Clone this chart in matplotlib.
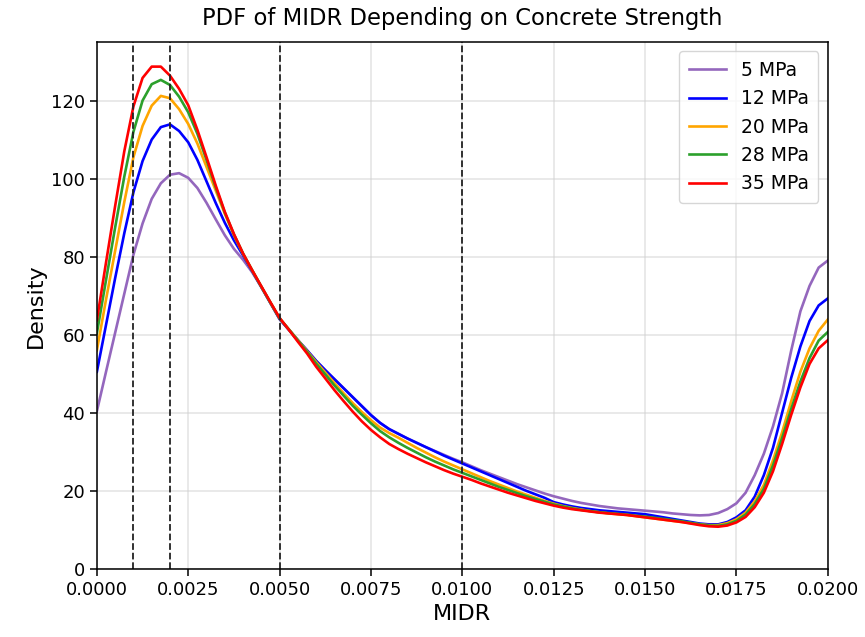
import numpy as np
import matplotlib
matplotlib.use("Agg")
import matplotlib.pyplot as plt

# MIDR grid on which the density curves were evaluated
midr = np.linspace(0.0, 0.02, 81)

strength_labels = ["5 MPa", "12 MPa", "20 MPa", "28 MPa", "35 MPa"]
line_colors = ["tab:purple", "blue", "orange", "tab:green", "red"]

density_5 = [
    40.4, 50.5, 60.5, 70.5, 80.5, 88.5, 94.8, 98.8, 101.0, 101.4,
    100.2, 97.6, 93.8, 89.6, 85.5, 82.0, 79.2, 76.0, 72.2, 68.1,
    64.0, 61.3, 58.6, 56.0, 53.3, 50.9, 48.6, 46.3, 44.0, 41.7,
    39.4, 37.4, 35.8, 34.6, 33.4, 32.3, 31.2, 30.2, 29.2, 28.2,
    27.3, 26.3, 25.3, 24.4, 23.5, 22.6, 21.7, 20.9, 20.1, 19.3,
    18.6, 18.0, 17.4, 16.9, 16.5, 16.1, 15.8, 15.5, 15.3, 15.1,
    14.9, 14.7, 14.5, 14.2, 14.0, 13.8, 13.7, 13.8, 14.3, 15.3,
    16.8, 19.5, 24.0, 29.5, 36.5, 45.0, 56.0, 66.0, 72.5, 77.2,
    79.0,
]
density_12 = [
    50.5, 62.5, 74.5, 86.0, 96.5, 104.5, 110.0, 113.2, 113.9, 112.2,
    109.3, 104.8, 99.3, 93.8, 88.7, 84.2, 80.3, 76.3, 72.2, 68.1,
    64.0, 61.3, 58.6, 56.0, 53.3, 50.9, 48.6, 46.3, 44.0, 41.7,
    39.4, 37.4, 35.8, 34.6, 33.4, 32.3, 31.2, 30.1, 29.0, 28.0,
    27.0, 26.0, 25.0, 24.0, 23.0, 22.0, 21.0, 20.0, 19.1, 18.2,
    17.1, 16.5, 16.0, 15.6, 15.3, 15.0, 14.8, 14.6, 14.4, 14.2,
    14.0, 13.6, 13.2, 12.8, 12.4, 12.0, 11.6, 11.4, 11.4, 12.0,
    13.2, 15.0, 18.5, 24.0, 31.0, 40.0, 49.0, 57.0, 63.5, 67.5,
    69.3,
]
density_20 = [
    56.0, 69.0, 81.5, 94.0, 105.5, 113.5, 118.7, 121.2, 120.6, 117.8,
    114.0, 109.0, 103.0, 97.0, 91.0, 85.5, 80.7, 76.5, 72.3, 68.2,
    64.2, 61.4, 58.6, 55.8, 53.0, 50.3, 47.6, 45.0, 42.5, 40.2,
    38.1, 36.2, 34.8, 33.6, 32.3, 31.0, 29.8, 28.6, 27.5, 26.5,
    25.5, 24.5, 23.5, 22.5, 21.6, 20.7, 19.8, 19.0, 18.2, 17.4,
    16.7, 16.1, 15.6, 15.2, 14.8, 14.5, 14.2, 14.0, 13.8, 13.5,
    13.2, 12.9, 12.6, 12.3, 12.0, 11.7, 11.4, 11.2, 11.2, 11.7,
    12.7, 14.4, 17.3, 21.5, 27.8, 35.0, 43.0, 50.5, 56.5, 61.0,
    63.9,
]
density_28 = [
    60.4, 74.0, 87.5, 100.5, 112.0, 120.0, 124.2, 125.3, 124.0, 121.0,
    117.0, 111.5, 104.8, 97.8, 91.3, 85.7, 80.8, 76.5, 72.3, 68.2,
    64.2, 61.4, 58.5, 55.6, 52.6, 49.8, 47.0, 44.4, 41.8, 39.5,
    37.3, 35.3, 33.7, 32.3, 31.0, 29.8, 28.6, 27.5, 26.5, 25.5,
    24.6, 23.7, 22.8, 21.9, 21.0, 20.2, 19.4, 18.6, 17.9, 17.2,
    16.5, 16.0, 15.5, 15.1, 14.8, 14.5, 14.3, 14.1, 13.9, 13.6,
    13.4, 13.1, 12.8, 12.5, 12.2, 11.8, 11.4, 11.1, 11.0, 11.4,
    12.3, 13.9, 16.6, 20.5, 26.5, 33.5, 41.0, 48.0, 54.0, 58.5,
    60.7,
]
density_35 = [
    63.7, 78.5, 93.0, 107.0, 118.5, 125.8, 128.7, 128.7, 126.4, 123.0,
    118.8, 112.5, 105.5, 98.3, 91.5, 85.8, 80.8, 76.5, 72.4, 68.3,
    64.3, 61.3, 58.2, 55.2, 51.8, 48.8, 45.8, 43.0, 40.3, 37.8,
    35.6, 33.7, 32.0, 30.7, 29.5, 28.4, 27.3, 26.3, 25.3, 24.4,
    23.6, 22.8, 21.9, 21.1, 20.3, 19.5, 18.8, 18.1, 17.4, 16.8,
    16.2, 15.7, 15.3, 15.0, 14.7, 14.4, 14.2, 14.0, 13.8, 13.5,
    13.2, 12.9, 12.6, 12.3, 12.0, 11.6, 11.2, 10.9, 10.8, 11.1,
    11.9, 13.3, 15.8, 19.5, 25.0, 32.0, 39.5, 46.5, 52.5, 56.5,
    58.6,
]

# Damage-state thresholds marked on the MIDR axis
thresholds = [0.001, 0.002, 0.005, 0.01]

densities = [density_5, density_12, density_20, density_28, density_35]

fig = plt.figure(figsize=(8.65, 6.37), dpi=100)
ax = fig.add_axes([0.112, 0.107, 0.845, 0.827])

for dens, label, color in zip(densities, strength_labels, line_colors):
    ax.plot(midr, dens, color=color, lw=1.9, label=label,
            solid_joinstyle="round")

for t in thresholds:
    ax.axvline(t, color="#222222", ls="--", lw=1.3)

ax.set_xlim(0, 0.02)
ax.set_ylim(0, 135)
ax.set_xticks(np.arange(0, 0.02001, 0.0025))
ax.set_xticklabels([f"{v:.4f}" for v in np.arange(0, 0.02001, 0.0025)])
ax.set_yticks(np.arange(0, 121, 20))
ax.tick_params(labelsize=13, length=5, width=1.1)
for s in ax.spines.values():
    s.set_linewidth(1.1)

ax.grid(True, color="#d0d0d0", alpha=0.5, lw=1.3)
ax.set_axisbelow(True)

ax.set_title("PDF of MIDR Depending on Concrete Strength", fontsize=16.3, pad=12)
ax.set_xlabel("MIDR", fontsize=16)
ax.set_ylabel("Density", fontsize=16)
ax.legend(loc="upper right", fontsize=13.5, handlelength=2.0, borderpad=0.5)

fig.savefig("out.png", dpi=100)
